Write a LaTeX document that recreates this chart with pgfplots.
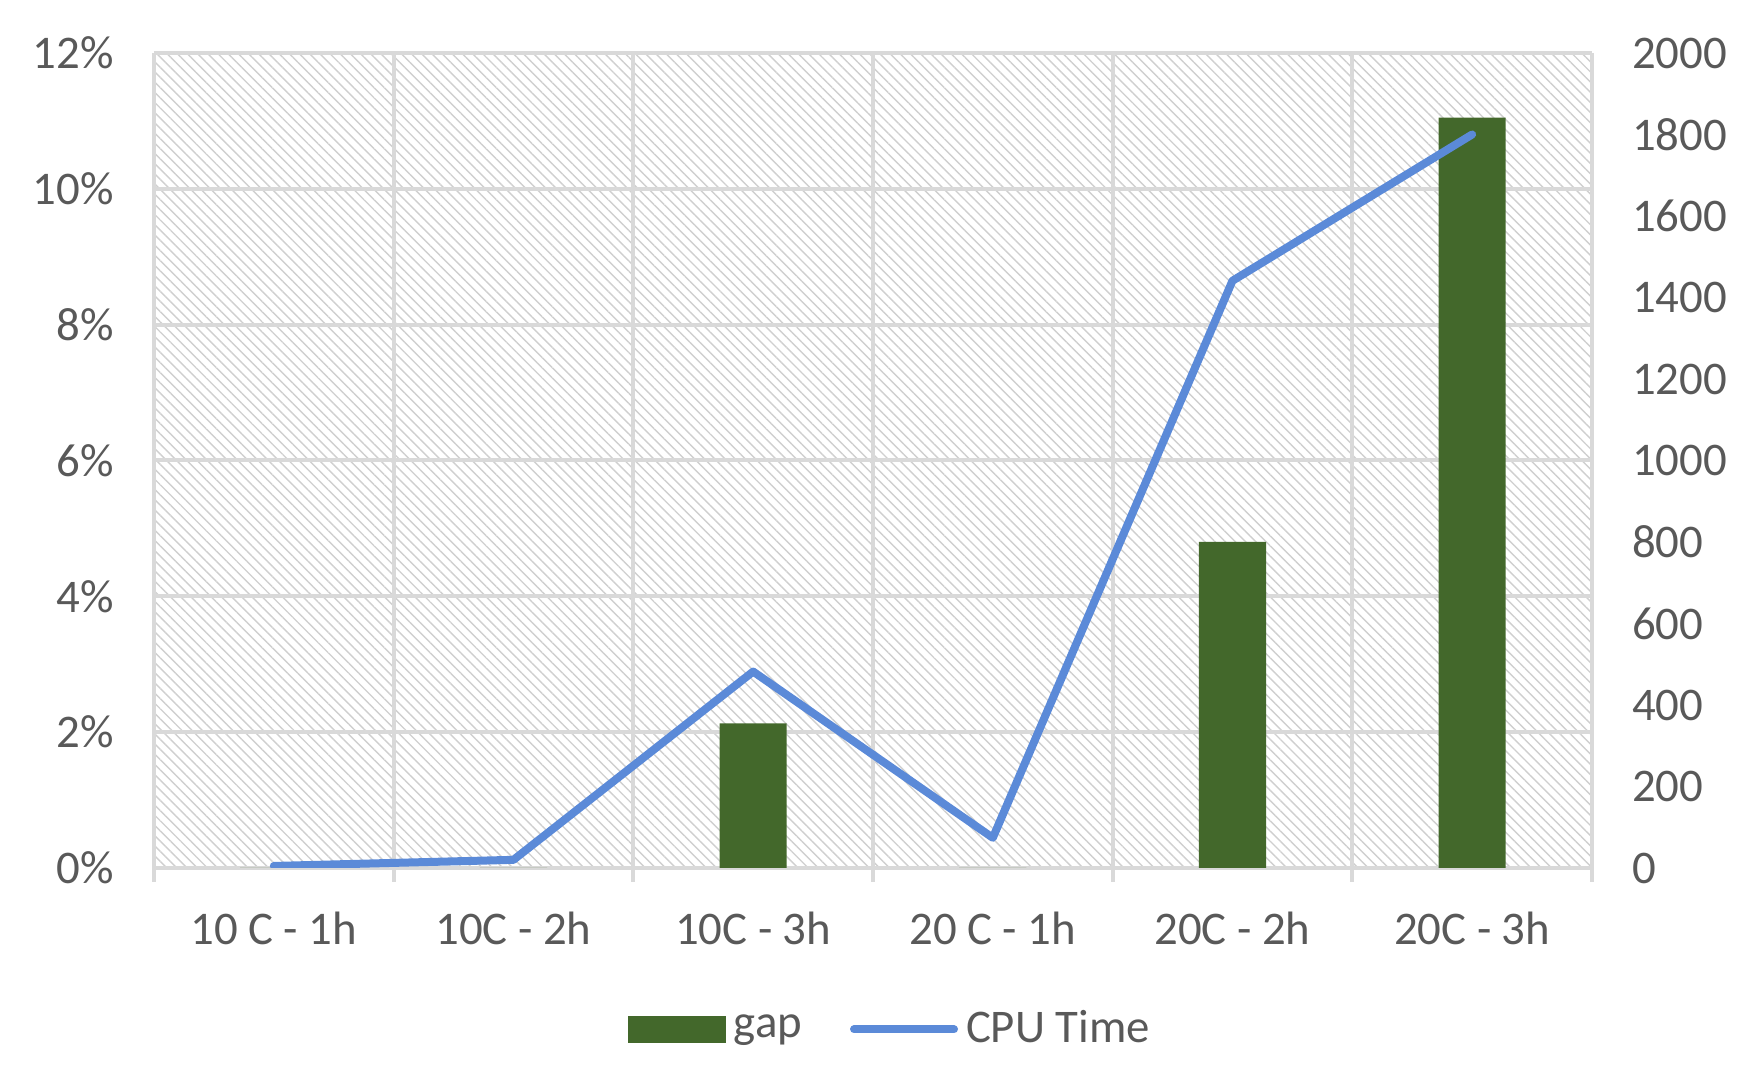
\documentclass[border=0pt]{standalone}
\usepackage{fontspec}
\setmainfont{Carlito}
\usepackage{pgfplots}
\pgfplotsset{compat=1.18}
\usetikzlibrary{patterns.meta}
\definecolor{bargreen}{HTML}{43682B}
\definecolor{lineblue}{HTML}{5B8AD8}
\definecolor{gridgray}{HTML}{D9D9D9}
\definecolor{txtgray}{HTML}{595959}
\definecolor{hatchgray}{HTML}{CFCFCF}
\begin{document}
\begin{tikzpicture}
\pgfplotsset{
  common/.style={
    scale only axis, width=359.5pt, height=203.75pt,
    at={(0,0)}, anchor=south west,
    xmin=-0.5, xmax=5.5,
    tick label style={font=\fontsize{11.7}{13}\selectfont, text=txtgray},
    major tick length=0pt,
  }
}
\begin{axis}[common,
  axis background/.style={pattern={Lines[angle=-45,distance=1.8pt,line width=0.35pt]}, pattern color=hatchgray},
  ymin=0, ymax=12,
  ytick={0,2,4,6,8,10,12},
  yticklabels={0\%,2\%,4\%,6\%,8\%,10\%,12\%},
  y tick label style={xshift=-6.5pt},
  xtick={0,1,2,3,4,5},
  xticklabels={10 C - 1h,10C - 2h,10C - 3h,20 C - 1h,20C - 2h,20C - 3h},
  x tick label style={yshift=-7.5pt},
  minor xtick={-0.5,0.5,1.5,2.5,3.5,4.5,5.5},
  minor tick length=3.5pt,
  tick align=outside,
  minor x tick style={draw=gridgray, line width=1pt},
  ymajorgrids, xminorgrids,
  grid style={draw=gridgray, line width=1pt},
  minor grid style={draw=gridgray, line width=1pt},
  axis line style={draw=gridgray, line width=1pt},
  axis x line*=bottom, axis y line*=left,
  ybar, bar width=16.8pt,
]
\addplot[fill=bargreen, draw=none] coordinates {(0,0) (1,0) (2,2.13) (3,0) (4,4.80) (5,11.05)};
\end{axis}
\begin{axis}[common,
  axis x line=none, axis y line*=right,
  axis line style={draw=none},
  ymin=0, ymax=2000,
  ytick={0,200,...,2000},
  yticklabels={0,200,400,600,800,1000,1200,1400,1600,1800,2000},
  y tick label style={xshift=6.5pt},
  legend columns=2,
  legend style={draw=none, fill=none, at={(0.514,-0.198)}, anchor=center,
    font=\fontsize{11.7}{13}\selectfont\color{txtgray},
    /tikz/every even column/.append style={column sep=10pt}},
]
\addlegendimage{legend image code/.code={\fill[bargreen] (0pt,-3.1pt) rectangle (24pt,3.1pt);}}
\addlegendentry{gap}
\addplot[lineblue, line width=2pt, line cap=round, line join=round,
  legend image code/.code={\draw[lineblue, line width=2pt, line cap=round] (0pt,0pt) -- (25pt,0pt);}]
  coordinates {(0,5) (1,20) (2,482) (3,74) (4,1441) (5,1800)};
\addlegendentry{CPU Time}
\end{axis}
\path[use as bounding box] (-38.5pt,-52.5pt) rectangle (401.5pt,217pt);
\end{tikzpicture}
\end{document}
